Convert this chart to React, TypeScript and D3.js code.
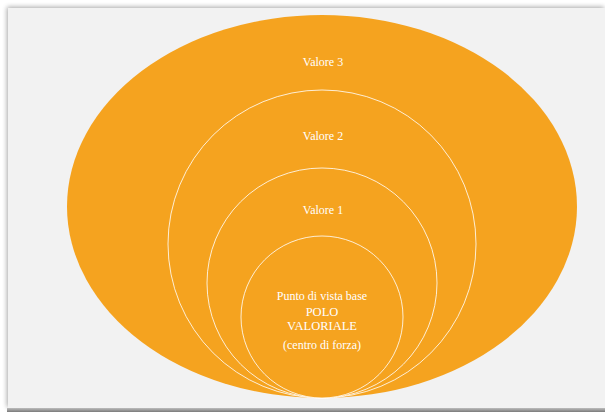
import React from "react";
import * as d3 from "d3";

const W = 605;
const H = 412;

// concentric levels (inner -> outer), size as relative diameter
const ringLabels = ["Valore 1", "Valore 2", "Valore 3"];
const ringSizes = [162, 230, 308];
const outerSize = { w: 510, h: 383 };
const coreLines = ["Punto di vista base", "POLO", "VALORIALE", "(centro di forza)"];
const coreLineOffsets = [0, 16, 30, 49];
const ringLabelY = [211, 137, 63];

export default function App() {
  const frame = { x: 8, y: 8, w: 597, h: 400 };
  const cx = 322;
  const baseY = 398;
  const sx = d3.scaleLinear().domain([0, 1]).range([0, 1]);

  const outer = {
    cx,
    cy: baseY - sx(outerSize.h) / 2,
    rx: sx(outerSize.w) / 2,
    ry: sx(outerSize.h) / 2,
  };

  const rings = ringSizes.map((d) => ({ r: sx(d) / 2, cy: baseY - sx(d) / 2 }));

  return (
    <svg
      width={W}
      height={H}
      style={{ position: "fixed", left: 0, top: 0, display: "block" }}
      viewBox={`0 0 ${W} ${H}`}
    >
      <defs>
        <filter id="sh" x="-5%" y="-5%" width="110%" height="110%">
          <feGaussianBlur in="SourceAlpha" stdDeviation="2.5" />
          <feOffset dx="-1" dy="-1" result="b" />
          <feComponentTransfer>
            <feFuncA type="linear" slope="0.35" />
          </feComponentTransfer>
          <feMerge>
            <feMergeNode />
            <feMergeNode in="SourceGraphic" />
          </feMerge>
        </filter>
        <linearGradient id="bot" x1="0" y1="0" x2="0" y2="1">
          <stop offset="0" stopColor="#bdbdbd" />
          <stop offset="1" stopColor="#7a7a7a" />
        </linearGradient>
      </defs>
      <rect x={0} y={0} width={W} height={H} fill="#ffffff" />
      <rect x={frame.x} y={frame.y} width={frame.w} height={frame.h} fill="#f2f2f2" filter="url(#sh)" />
      <rect x={frame.x - 1} y={408} width={W} height={4} fill="url(#bot)" />
      <ellipse cx={outer.cx} cy={outer.cy} rx={outer.rx} ry={outer.ry} fill="#F5A31F" />
      {rings
        .slice()
        .reverse()
        .map((c, i) => (
          <circle
            key={i}
            cx={cx}
            cy={c.cy}
            r={c.r}
            fill="#F5A31F"
            stroke="#ffffff"
            strokeWidth={0.9}
            strokeOpacity={0.9}
          />
        ))}
      <g fontFamily="'Liberation Serif', 'DejaVu Serif', serif" fill="#ffffff" textAnchor="middle">
        {ringLabels.map((t, i) => (
          <text key={t} x={cx + 1} y={ringLabelY[i]} dominantBaseline="middle" fontSize={12}>
            {t}
          </text>
        ))}
        {coreLines.map((t, i) => (
          <text key={t} x={cx} y={297 + coreLineOffsets[i]} dominantBaseline="middle" fontSize={i === 1 || i === 2 ? 12.5 : 12}>
            {t}
          </text>
        ))}
      </g>
    </svg>
  );
}
